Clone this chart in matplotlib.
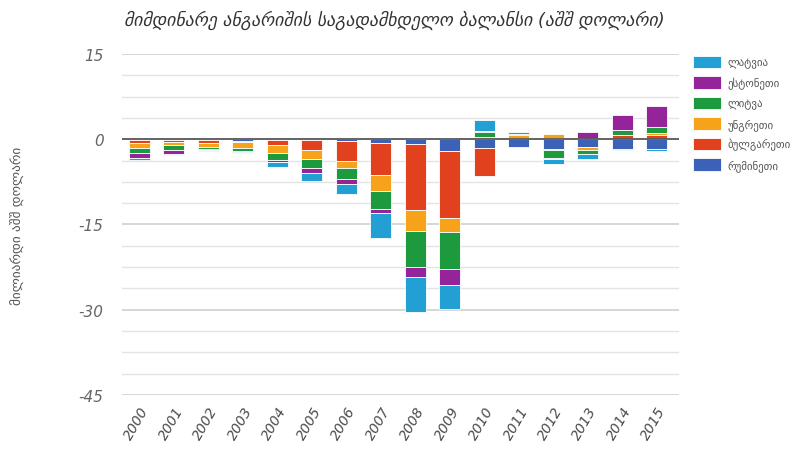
import numpy as np
import matplotlib
matplotlib.use('Agg')
import matplotlib.pyplot as plt
from matplotlib.ticker import MultipleLocator

plt.rcParams['axes.unicode_minus'] = False

# წლები
years = [str(y) for y in range(2000, 2016)]

# მნიშვნელობები (მლრდ აშშ დოლარი), წაკითხული სურათიდან
romania = [-0.2, -0.1, -0.1, -0.3, -0.2, -0.2, -0.35, -0.65, -0.9, -2.0, -1.6, -1.3, -1.65, -1.35, -1.65, -1.7]
bulgaria = [-0.5, -0.4, -0.6, -0.2, -0.8, -1.7, -3.4, -5.7, -11.5, -11.8, -4.8, 0.0, -0.3, 0.0, 0.8, 0.7]
hungary = [-0.8, -0.6, -0.6, -1.0, -1.4, -1.5, -1.3, -2.8, -3.8, -2.5, 0.4, 0.8, 1.0, -0.6, 0.0, 0.4]
lithuania = [-1.0, -0.8, -0.5, -0.6, -1.3, -1.6, -2.0, -3.2, -6.2, -6.5, 0.9, 0.0, -1.35, -0.6, 0.75, 1.1]
estonia = [-0.8, -0.7, -0.1, -0.2, -0.3, -0.9, -0.9, -0.6, -1.8, -2.8, 0.1, 0.2, -0.1, 1.2, 2.65, 3.6]
latvia = [-0.4, -0.2, -0.2, -0.1, -0.8, -1.4, -1.6, -4.5, -6.2, -4.35, 1.9, 0.3, -0.9, -0.9, -0.3, -0.4]

names = ['რუმინეთი', 'ბულგარეთი', 'უნგრეთი', 'ლიტვა', 'ესტონეთი', 'ლატვია']
series = [romania, bulgaria, hungary, lithuania, estonia, latvia]
colors = ['#3b62b6', '#e2411e', '#f7a21b', '#1d9a3d', '#95239a', '#22a0d4']

fig = plt.figure(figsize=(8.07, 4.56), dpi=100)
ax = fig.add_axes([0.151, 0.1316, 0.690, 0.7478])

x = np.arange(len(years))
pos = np.zeros(len(years))
neg = np.zeros(len(years))
handles = []
for vals, name, c in zip(series, names, colors):
    v = np.array(vals)
    bottom = np.where(v >= 0, pos, neg)
    h = ax.bar(x, v, width=0.61, bottom=bottom, color=c, edgecolor='white',
               linewidth=0.6, label=name, zorder=3)
    handles.append(h)
    pos += np.where(v >= 0, v, 0)
    neg += np.where(v < 0, v, 0)

ax.set_xlim(-0.507, 15.64)
ax.set_ylim(-45, 15)
ax.yaxis.set_major_locator(MultipleLocator(15))
ax.yaxis.set_minor_locator(MultipleLocator(3.75))
ax.grid(axis='y', which='minor', color='#e4e4e4', lw=1.0, zorder=0)
ax.grid(axis='y', which='major', color='#cfcfcf', lw=1.2, zorder=0)
ax.axhline(0, color='#5a5a5a', lw=1.3, zorder=4)

for s in ax.spines.values():
    s.set_visible(False)

ax.set_xticks(x)
ax.set_xticklabels(years, rotation=60, ha='right', va='top', rotation_mode='anchor',
                   fontsize=10, style='italic', color='#4a4a4a')
ax.tick_params(axis='x', length=0, pad=6)
ax.tick_params(axis='y', which='both', length=0, pad=13, labelsize=11,
               labelcolor='#666666')
for t in ax.get_yticklabels():
    t.set_style('italic')

ax.set_ylabel('მილიარდი აშშ დოლარი', fontsize=9.5, color='#555555', labelpad=39)

fig.text(0.488, 0.955, 'მიმდინარე ანგარიშის საგადამხდელო ბალანსი (აშშ დოლარი)',
         ha='center', va='center', fontsize=12.8, style='italic', color='#333333')

leg = ax.legend(handles[::-1], names[::-1], loc='upper left',
                bbox_to_anchor=(0.847, 0.897), bbox_transform=fig.transFigure,
                frameon=False, fontsize=7.8, handlelength=2.6, handleheight=1.4,
                labelspacing=0.72, handletextpad=0.6)
for t in leg.get_texts():
    t.set_color('#555555')

fig.savefig('out.png', dpi=100)
